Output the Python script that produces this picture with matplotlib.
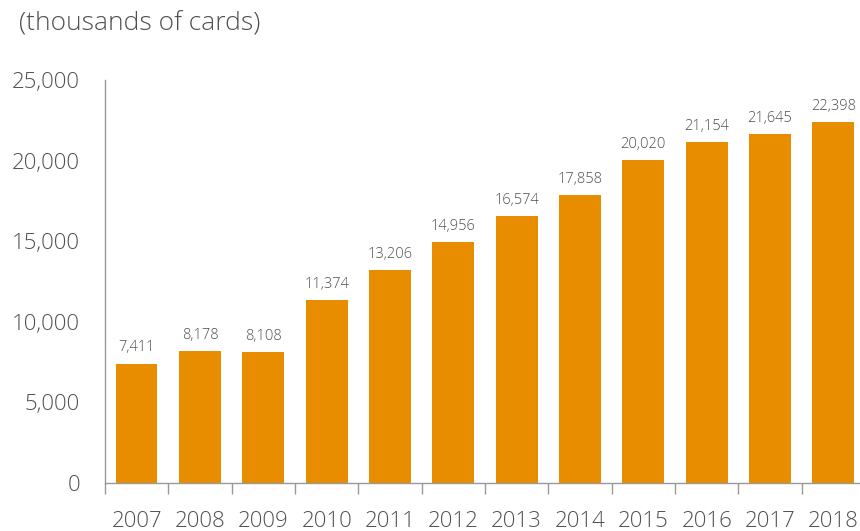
import numpy as np
import matplotlib.pyplot as plt
from matplotlib.ticker import FuncFormatter, FixedLocator

# data
years = ['2007', '2008', '2009', '2010', '2011', '2012',
         '2013', '2014', '2015', '2016', '2017', '2018']
cards = [7411, 8178, 8108, 11374, 13206, 14956,
         16574, 17858, 20020, 21154, 21645, 22398]

plt.rcParams['font.family'] = ['Open Sans', 'DejaVu Sans']
plt.rcParams['font.weight'] = 'light'

fig = plt.figure(figsize=(8.6, 5.31), dpi=100)
ax = fig.add_axes([0.122, 0.0904, 0.878, 0.759])

x = np.arange(len(years))
bars = ax.bar(x, cards, width=0.66, color='#E98D00')

for xi, v in zip(x, cards):
    ax.text(xi, v + 500, f'{v:,}', ha='center', va='bottom',
            fontsize=10.5, color='#505050')

ax.set_xlim(-0.5, 11.42)
ax.set_ylim(0, 25000)
ax.set_yticks(range(0, 25001, 5000))
ax.yaxis.set_major_formatter(FuncFormatter(lambda v, p: f'{int(v):,}'))
ax.tick_params(axis='y', length=0, pad=18, labelsize=16, labelcolor='#505050')

ax.set_xticks(x)
ax.set_xticklabels(years)
ax.tick_params(axis='x', which='major', length=0, pad=20,
               labelsize=16, labelcolor='#505050')
ax.xaxis.set_minor_locator(FixedLocator(np.arange(-0.5, 12, 1)))
ax.tick_params(axis='x', which='minor', length=8, width=1, color='#999999')

for s in ['top', 'right']:
    ax.spines[s].set_visible(False)
for s in ['left', 'bottom']:
    ax.spines[s].set_color('#999999')
    ax.spines[s].set_linewidth(1)

fig.text(0.022, 0.954, '(thousands of cards)', fontsize=19,
         color='#505050', va='center', ha='left')

fig.savefig('out.png', dpi=100)
